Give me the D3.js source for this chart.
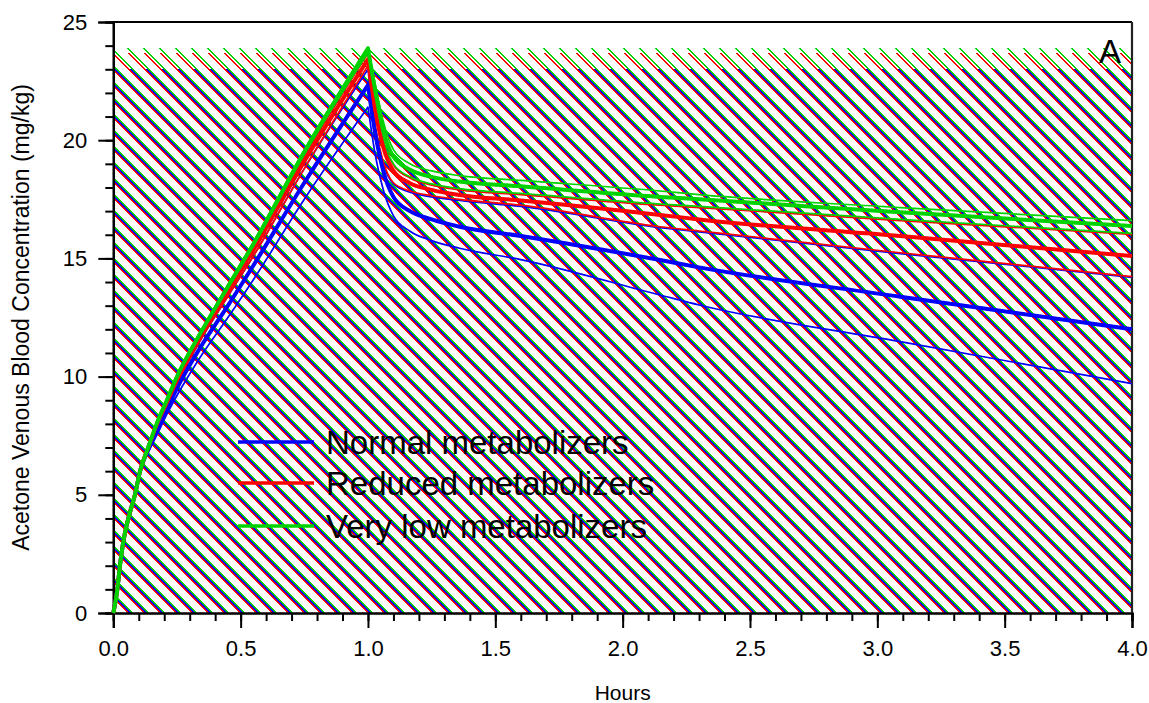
<!DOCTYPE html>
<html>
<head>
<meta charset="utf-8">
<script src="https://cdn.jsdelivr.net/npm/d3@7"></script>
<style>
  html, body { margin: 0; padding: 0; background: #fff; }
  svg { display: block; font-family: "Liberation Sans", Arial, sans-serif; }
</style>
</head>
<body>
<svg id="chart" width="1149" height="703"></svg>
<script>
// ---------------- data ----------------
const hours = [0, 0.016, 0.026, 0.039, 0.059, 0.085, 0.105, 0.137, 0.17, 0.21, 0.25, 0.34, 0.45, 0.55, 0.75, 1.0,
               1.03, 1.06, 1.1, 1.165, 1.25, 1.36, 1.6, 2.147, 2.3, 3.09, 4.0];

const normalMean  = [0,1,2,3,4,5,6,6.9, 7.7,8.6,9.5,11.2,13.0,14.7,18.2,22.33, 20.2,18.7,17.6,17.0,16.65,16.34,15.95,14.93,14.62,13.38,12.0];
const normalUpper = [0,1,2,3,4,5,6,6.95, 7.88,8.78,9.68,11.5,13.4,15.1,18.8,23.0, 20.4,19.0,18.15,17.8,17.6,17.45,17.2,16.3,16.12,15.2,14.2];
const normalLower = [0,1,2,3,4,5,5.95,6.8, 7.5,8.4,9.2,10.8,12.5,14.1,17.5,21.4, 19.3,17.9,16.8,16.15,15.75,15.43,14.95,13.45,13.03,11.48,9.7];

const reducedMean  = [0,1,2,3,4,5,6,7, 7.95,8.9,9.85,11.65,13.6,15.35,19.1,23.42, 21.2,19.7,18.7,18.18,17.9,17.68,17.45,16.84,16.65,15.95,15.1];
const reducedUpper = [0,1,2,3,4,5,6,7, 7.97,8.93,9.9,11.7,13.65,15.45,19.3,23.68, 21.5,19.95,18.95,18.4,18.1,17.9,17.7,17.25,17.15,16.6,16.02];
const reducedLower = [0,1,2,3,4,5,6,6.95, 7.9,8.8,9.7,11.5,13.4,15.1,18.8,23.15, 20.5,19.1,18.2,17.85,17.65,17.5,17.25,16.34,16.16,15.24,14.23];

const veryLowMean  = [0,1,2,3,4,5,6,7, 8,9,10,11.8,13.8,15.6,19.5,23.89, 22.0,20.4,19.3,18.75,18.45,18.25,18.05,17.6,17.5,16.95,16.37];
const veryLowUpper = [0,1,2,3,4,5,6,7.05, 8.05,9.05,10.05,11.85,13.9,15.7,19.6,23.92, 22.3,20.8,19.6,19.0,18.7,18.5,18.3,17.85,17.7,17.15,16.6];
const veryLowLower = [0,1,2,3,4,5,6,7, 7.95,8.95,9.95,11.75,13.7,15.5,19.4,23.7, 21.6,20.0,19.0,18.45,18.15,17.95,17.75,17.3,17.2,16.65,16.06];

const seriesNames = ["Normal metabolizers", "Reduced metabolizers", "Very low metabolizers"];
const seriesColors = ["#0000ff", "#ff0000", "#00d200"];

const xTicks = [0, 0.5, 1.0, 1.5, 2.0, 2.5, 3.0, 3.5, 4.0];
const yTicks = [0, 5, 10, 15, 20, 25];

const xTitle = "Hours";
const yTitle = "Acetone Venous Blood Concentration (mg/kg)";
const panelLabel = "A";

const groups = [
  { name: seriesNames[0], color: seriesColors[0], mean: normalMean,  upper: normalUpper,  lower: normalLower },
  { name: seriesNames[1], color: seriesColors[1], mean: reducedMean, upper: reducedUpper, lower: reducedLower },
  { name: seriesNames[2], color: seriesColors[2], mean: veryLowMean, upper: veryLowUpper, lower: veryLowLower }
];

// ---------------- layout ----------------
const svg = d3.select("#chart");
const L = 113.3, R = 1132, T = 22, B = 613;

const x = d3.scaleLinear().domain([0, 4]).range([L, R]);
const y = d3.scaleLinear().domain([0, 25]).range([B, T]);

// ---------------- hatching: pixel-exact 45° stripes in a 16x16 tile ----------------
const defs = svg.append("defs");
const tile = 16;
// per series: [offset in px along the row, width in px]  (blue, red, green)
const stripeSpec = [[2, 2], [0, 2], [4, 2]];
groups.forEach((g, i) => {
  const p = defs.append("pattern")
    .attr("id", "hatch" + i)
    .attr("patternUnits", "userSpaceOnUse")
    .attr("x", Math.round(L)).attr("y", T)
    .attr("width", tile).attr("height", tile);
  const [off, w] = stripeSpec[i];
  const cells = [];
  d3.range(tile).forEach(j => {
    const xx = (j + off) % tile;
    cells.push([xx, j]);
    if (xx + w > tile) cells.push([xx - tile, j]);
  });
  p.selectAll("rect").data(cells).join("rect")
    .attr("x", d => d[0]).attr("y", d => d[1])
    .attr("width", w).attr("height", 1)
    .attr("fill", g.color)
    .attr("shape-rendering", "crispEdges");
});

const hatchLayer = svg.append("g");
[0, 1, 2].forEach(i => {
  const g = groups[i];
  const top = d3.max(g.upper);
  const y0 = Math.round(y(top));
  hatchLayer.append("rect")
    .attr("x", Math.round(x(0))).attr("y", y0)
    .attr("width", Math.round(x(4)) - Math.round(x(0))).attr("height", Math.round(y(0)) - y0)
    .attr("fill", "url(#hatch" + i + ")")
    .attr("shape-rendering", "crispEdges");
});

// ---------------- axes ----------------
const axisStyle = sel => {
  sel.selectAll("path.domain").attr("stroke", "#000").attr("stroke-width", 2.2);
  sel.selectAll(".tick line").attr("stroke", "#000").attr("stroke-width", 2);
  sel.selectAll(".tick text").attr("fill", "#000").attr("font-size", 22)
     .attr("font-family", "'Liberation Sans', Arial, sans-serif");
};

// minor ticks
svg.append("g").attr("transform", `translate(0,${B})`)
  .call(d3.axisBottom(x).tickValues(d3.range(0, 41).map(d => d / 10)).tickSize(8).tickFormat(""))
  .call(axisStyle);
svg.append("g").attr("transform", `translate(${L},0)`)
  .call(d3.axisLeft(y).tickValues(d3.range(0, 26)).tickSize(8).tickFormat(""))
  .call(axisStyle);

// major ticks
svg.append("g").attr("transform", `translate(0,${B})`)
  .call(d3.axisBottom(x).tickValues(xTicks).tickSize(15).tickPadding(12).tickFormat(d3.format(".1f")))
  .call(axisStyle);
svg.append("g").attr("transform", `translate(${L},0)`)
  .call(d3.axisLeft(y).tickValues(yTicks).tickSize(15).tickPadding(11).tickFormat(d3.format("d")))
  .call(axisStyle);

// frame top + right
svg.append("line").attr("x1", L).attr("x2", R).attr("y1", T).attr("y2", T)
  .attr("stroke", "#000").attr("stroke-width", 2.2);
svg.append("line").attr("x1", R).attr("x2", R).attr("y1", T).attr("y2", B)
  .attr("stroke", "#222").attr("stroke-width", 2.2);

// ---------------- lines ----------------
const peakIdx = hours.indexOf(1.0);
const seg = d3.line().curve(d3.curveMonotoneX);
const lineGen = arr => {
  const pts = arr.map((v, i) => [x(hours[i]), y(v)]);
  const rise = seg(pts.slice(0, peakIdx + 1));
  const fall = seg(pts.slice(peakIdx));
  return rise + "L" + fall.slice(1);
};

const linesLayer = svg.append("g").attr("fill", "none").attr("stroke-linejoin", "round");
groups.forEach(g => {
  linesLayer.append("path").attr("d", lineGen(g.upper)).attr("stroke", g.color).attr("stroke-width", 1.7);
  linesLayer.append("path").attr("d", lineGen(g.lower)).attr("stroke", g.color).attr("stroke-width", 1.7);
});
groups.forEach(g => {
  linesLayer.append("path").attr("d", lineGen(g.mean)).attr("stroke", g.color).attr("stroke-width", 4);
});

// ---------------- legend ----------------
const legendY = [442, 483, 526];
const legend = svg.append("g");
groups.forEach((g, i) => {
  legend.append("line")
    .attr("x1", 238).attr("x2", 314)
    .attr("y1", legendY[i]).attr("y2", legendY[i])
    .attr("stroke", g.color).attr("stroke-width", 3.5);
  legend.append("text")
    .attr("x", 326).attr("y", legendY[i] + 11.5)
    .attr("font-size", 33).attr("fill", "#000")
    .text(g.name);
});

// panel label
svg.append("text").attr("x", 1099).attr("y", 63)
  .attr("font-size", 33).attr("fill", "#000").text(panelLabel);

// axis titles
svg.append("text").attr("x", (L + R) / 2).attr("y", 700)
  .attr("text-anchor", "middle").attr("font-size", 21).attr("fill", "#000").text(xTitle);
svg.append("text")
  .attr("transform", `translate(29,${(T + B) / 2}) rotate(-90)`)
  .attr("text-anchor", "middle").attr("font-size", 23).attr("fill", "#000").text(yTitle);
</script>
</body>
</html>
